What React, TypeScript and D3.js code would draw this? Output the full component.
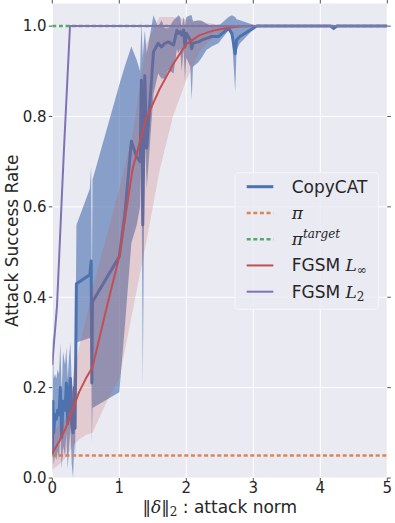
import React from "react";
import * as d3 from "d3";

// ---- data ----
const xTicks = [0, 1, 2, 3, 4, 5];
const yTicks = [0, 0.2, 0.4, 0.6, 0.8, 1.0];

// CopyCAT: attack norm, mean success, band low, band high
const copyX = [0.0, 0.01, 0.02, 0.04, 0.06, 0.08, 0.1, 0.12, 0.14, 0.16, 0.19, 0.21, 0.23, 0.25, 0.27, 0.29, 0.31, 0.33, 0.34, 0.36, 0.56, 0.58, 0.59, 0.6, 1.0, 1.08, 1.18, 1.26, 1.31, 1.33, 1.35, 1.38, 1.41, 1.51, 1.58, 1.63, 1.68, 1.73, 1.81, 1.86, 1.88, 1.91, 1.93, 1.96, 1.98, 2.0, 2.06, 2.08, 2.1, 2.18, 2.23, 2.3, 2.38, 2.48, 2.63, 2.68, 2.73, 2.75, 2.8, 3.05, 4.15, 4.2, 4.25, 5.0];
const copyMean = [0.05, 0.17, 0.1, 0.14, 0.13, 0.15, 0.14, 0.2, 0.09, 0.17, 0.15, 0.21, 0.12, 0.19, 0.22, 0.12, 0.1, 0.2, 0.11, 0.43, 0.45, 0.48, 0.21, 0.39, 0.49, 0.58, 0.745, 0.71, 0.7, 0.88, 0.56, 0.89, 0.73, 0.943, 0.962, 0.954, 0.962, 0.965, 0.958, 0.991, 0.984, 0.988, 0.98, 0.991, 0.954, 0.984, 0.969, 0.95, 0.962, 0.965, 0.969, 0.973, 0.977, 0.977, 0.995, 0.984, 0.939, 0.969, 0.977, 1.0, 1.0, 0.995, 1.0, 1.0];
const copyLo = [0.0, 0.06, 0.03, 0.05, 0.04, 0.06, 0.04, 0.1, 0.02, 0.07, 0.05, 0.1, 0.02, 0.07, 0.11, 0.03, 0.0, 0.08, 0.04, 0.3, 0.31, 0.32, 0.077, 0.155, 0.19, 0.33, 0.52, 0.56, 0.6, 0.75, 0.2, 0.78, 0.64, 0.85, 0.895, 0.884, 0.884, 0.903, 0.895, 0.95, 0.94, 0.95, 0.9, 0.95, 0.88, 0.93, 0.91, 0.836, 0.91, 0.92, 0.93, 0.947, 0.955, 0.962, 0.991, 0.977, 0.855, 0.947, 0.962, 1.0, 1.0, 0.99, 1.0, 1.0];
const copyHi = [0.13, 0.31, 0.22, 0.23, 0.22, 0.24, 0.23, 0.3, 0.19, 0.28, 0.25, 0.29, 0.22, 0.27, 0.3, 0.21, 0.19, 0.27, 0.2, 0.56, 0.64, 0.69, 0.4, 0.66, 0.87, 0.91, 0.955, 0.925, 0.9, 1.01, 0.93, 0.99, 0.94, 1.024, 0.998, 1.013, 0.995, 0.995, 1.013, 1.02, 1.024, 1.02, 0.995, 1.02, 1.0, 1.02, 1.024, 1.024, 1.01, 1.013, 1.012, 1.005, 1.0, 1.0, 1.02, 1.024, 1.02, 1.015, 1.013, 1.0, 1.0, 1.0, 1.0, 1.0];

// FGSM L-infinity
const infX = [0, 0.1, 0.2, 0.3, 0.4, 0.5, 0.6, 0.8, 1.0, 1.2, 1.4, 1.6, 1.8, 2.0, 2.2, 2.4, 2.6, 2.8, 3.0, 5.0];
const infMean = [0.055, 0.08, 0.11, 0.15, 0.19, 0.22, 0.245, 0.37, 0.49, 0.685, 0.795, 0.86, 0.915, 0.96, 0.98, 0.99, 0.996, 0.999, 1.0, 1.0];
const infLo = [0.018, 0.03, 0.045, 0.07, 0.085, 0.095, 0.1, 0.165, 0.22, 0.37, 0.52, 0.68, 0.8, 0.88, 0.945, 0.975, 0.995, 1.0, 1.0, 1.0];
const infHi = [0.1, 0.115, 0.13, 0.21, 0.29, 0.35, 0.42, 0.53, 0.64, 0.76, 0.96, 1.02, 1.02, 1.015, 1.01, 1.005, 1.0, 1.0, 1.0, 1.0];

// FGSM L2
const l2X = [0, 0.02, 0.07, 0.14, 0.175, 0.264, 5.0];
const l2Mean = [0.25, 0.29, 0.38, 0.615, 0.73, 1.0, 1.0];
const l2Lo = [0.2, 0.27, 0.36, 0.6, 0.72, 1.0, 1.0];
const l2Hi = [0.31, 0.31, 0.4, 0.63, 0.74, 1.0, 1.0];

const piLevel = 0.05;
const piTargetLevel = 1.0;

const legendLabels = ["CopyCAT", "π", "πtarget", "FGSM L∞", "FGSM L2"];

// ---- style ----
const C_BLUE = "#4C72B0";
const C_ORANGE = "#DD8452";
const C_GREEN = "#55A868";
const C_RED = "#C44E52";
const C_PURPLE = "#8172B3";
const BG = "#EAEAF2";
const TXT = "#262626";

const W = 395;
const H = 523;
const L = 52.3;
const R = 387.3;
const T = 3.5;
const B = 478;

type P = { x: number; m: number; lo: number; hi: number };
const zip = (xs: number[], m: number[], lo: number[], hi: number[]): P[] =>
  xs.map((x, i) => ({ x, m: m[i], lo: lo[i], hi: hi[i] }));

export default function App() {
  const x = d3.scaleLinear().domain([0, 5]).range([L, R]);
  const y = d3.scaleLinear().domain([0, 1.05]).range([B, T]);

  const line = d3
    .line<P>()
    .x((d) => x(d.x))
    .y((d) => y(d.m));
  const area = d3
    .area<P>()
    .x((d) => x(d.x))
    .y0((d) => y(d.lo))
    .y1((d) => y(d.hi));

  const copy = zip(copyX, copyMean, copyLo, copyHi);
  const inf = zip(infX, infMean, infLo, infHi);
  const l2 = zip(l2X, l2Mean, l2Lo, l2Hi);

  const tickFont = "DejaVu Sans, sans-serif";
  const mathFont = "DejaVu Serif, serif";

  const legX = 235;
  const legY = 172.7;
  const legW = 143.3;
  const legH = 136.6;
  const rowY = (i: number) => 186.7 + i * 26.25;
  const sampleX0 = 246.7;
  const sampleX1 = 273.3;
  const textX = 291.7;

  return (
    <svg
      width={W}
      height={H}
      style={{ position: "absolute", left: 0, top: 0, background: "#fff" }}
      fontFamily={tickFont}
    >
      <defs>
        <clipPath id="plotclip">
          <rect x={L} y={T} width={R - L} height={B - T} />
        </clipPath>
      </defs>
      <rect x={L} y={T} width={R - L} height={B - T} fill={BG} />
      {/* grid */}
      {xTicks.map((t) => (
        <line key={"gx" + t} x1={x(t)} x2={x(t)} y1={T} y2={B} stroke="#fff" strokeWidth={1} />
      ))}
      {yTicks.map((t) => (
        <line key={"gy" + t} x1={L} x2={R} y1={y(t)} y2={y(t)} stroke="#fff" strokeWidth={1} />
      ))}

      <g clipPath="url(#plotclip)">
        <path d={area(copy) || ""} fill={C_BLUE} fillOpacity={0.62} stroke="none" />
        <path d={line(copy) || ""} fill="none" stroke={C_BLUE} strokeWidth={3} strokeLinejoin="round" />
        <line x1={x(0)} x2={x(5)} y1={y(piLevel)} y2={y(piLevel)} stroke={C_ORANGE} strokeWidth={2.5} strokeDasharray="4,2.6" />
        <line x1={x(0)} x2={x(5)} y1={y(piTargetLevel)} y2={y(piTargetLevel)} stroke={C_GREEN} strokeWidth={2.5} strokeDasharray="4,2.6" />
        <path d={area(inf) || ""} fill={C_RED} fillOpacity={0.2} stroke="none" />
        <path d={line(inf) || ""} fill="none" stroke={C_RED} strokeWidth={2} strokeLinejoin="round" />
        <path d={area(l2) || ""} fill={C_PURPLE} fillOpacity={0.2} stroke="none" />
        <path d={line(l2) || ""} fill="none" stroke={C_PURPLE} strokeWidth={2} strokeLinejoin="round" />
      </g>

      {/* ticks on four sides */}
      {xTicks.map((t) => (
        <g key={"tx" + t}>
          <line x1={x(t)} x2={x(t)} y1={T} y2={T - 3.5} stroke={TXT} strokeWidth={0.8} />
          <line x1={x(t)} x2={x(t)} y1={B} y2={B + 3.5} stroke={TXT} strokeWidth={0.8} />
          <text x={x(t)} y={493} textAnchor="middle" fontSize={15} fill={TXT}>
            {String(t)}
          </text>
        </g>
      ))}
      {yTicks.map((t) => (
        <g key={"ty" + t}>
          <line x1={L} x2={L - 3.5} y1={y(t)} y2={y(t)} stroke={TXT} strokeWidth={0.8} />
          <line x1={R} x2={R + 3.5} y1={y(t)} y2={y(t)} stroke={TXT} strokeWidth={0.8} />
          <text x={46.5} y={y(t) + 5.4} textAnchor="end" fontSize={15} fill={TXT}>
            {t.toFixed(1)}
          </text>
        </g>
      ))}

      {/* axis labels */}
      <text
        transform={`translate(17.5, ${(T + B) / 2}) rotate(-90)`}
        textAnchor="middle"
        fontSize={17}
        fill={TXT}
      >
        Attack Success Rate
      </text>
      <text x={(L + R) / 2} y={513} textAnchor="middle" fontSize={17} fill={TXT}>
        <tspan fontFamily={mathFont}>‖</tspan>
        <tspan fontFamily={mathFont} fontStyle="italic">δ</tspan>
        <tspan fontFamily={mathFont}>‖</tspan>
        <tspan fontFamily={mathFont} fontSize={12} dy={3}>2</tspan>
        <tspan dy={-3}> : attack norm</tspan>
      </text>

      {/* legend */}
      <rect
        x={legX}
        y={legY}
        width={legW}
        height={legH}
        rx={3}
        fill={BG}
        fillOpacity={0.8}
        stroke="#F6F6F9"
        strokeWidth={1}
      />
      <line x1={sampleX0} x2={sampleX1} y1={rowY(0)} y2={rowY(0)} stroke={C_BLUE} strokeWidth={3} />
      <line x1={sampleX0} x2={sampleX1} y1={rowY(1)} y2={rowY(1)} stroke={C_ORANGE} strokeWidth={2.5} strokeDasharray="4,2.6" />
      <line x1={sampleX0} x2={sampleX1} y1={rowY(2)} y2={rowY(2)} stroke={C_GREEN} strokeWidth={2.5} strokeDasharray="4,2.6" />
      <line x1={sampleX0} x2={sampleX1} y1={rowY(3)} y2={rowY(3)} stroke={C_RED} strokeWidth={2} />
      <line x1={sampleX0} x2={sampleX1} y1={rowY(4)} y2={rowY(4)} stroke={C_PURPLE} strokeWidth={2} />

      <text x={textX} y={rowY(0) + 6} fontSize={17} fill={TXT}>
        {legendLabels[0]}
      </text>
      <text x={textX} y={rowY(1) + 6} fontSize={17} fill={TXT} fontFamily={mathFont} fontStyle="italic">
        {legendLabels[1]}
      </text>
      <text x={textX} y={rowY(2) + 6} fontSize={17} fill={TXT} fontFamily={mathFont} fontStyle="italic">
        <tspan>{legendLabels[2].slice(0, 1)}</tspan>
        <tspan fontSize={12} dy={-7}>{legendLabels[2].slice(1)}</tspan>
      </text>
      <text x={textX} y={rowY(3) + 6} fontSize={17} fill={TXT}>
        <tspan>FGSM </tspan>
        <tspan fontFamily={mathFont} fontStyle="italic">L</tspan>
        <tspan fontFamily={mathFont} fontSize={12} dy={3}>∞</tspan>
      </text>
      <text x={textX} y={rowY(4) + 6} fontSize={17} fill={TXT}>
        <tspan>FGSM </tspan>
        <tspan fontFamily={mathFont} fontStyle="italic">L</tspan>
        <tspan fontFamily={mathFont} fontSize={12} dy={3}>2</tspan>
      </text>
    </svg>
  );
}
